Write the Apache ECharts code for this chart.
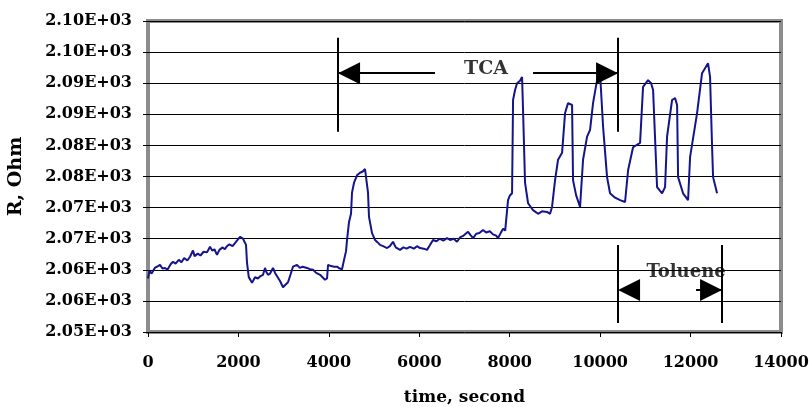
<!DOCTYPE html>
<html>
<head>
<meta charset="utf-8">
<script src="https://cdn.jsdelivr.net/npm/echarts@6/dist/echarts.min.js"></script>
<style>
html,body{margin:0;padding:0;background:#fff;}
#chart{width:809px;height:407px;}
</style>
</head>
<body>
<div id="chart"></div>
<script>
// time (s) and resistance (Ohm)
var times = [0,30,80,150,220,265,320,376,430,500,553,610,680,740,800,870,929,960,995,1030,1100,1160,1230,1305,1371,1420,1470,1526,1580,1650,1700,1747,1800,1870,1924,1980,2035,2101,2168,2190,2230,2270,2300,2367,2430,2490,2544,2588,2620,2654,2700,2765,2810,2853,2920,2960,2986,3040,3097,3150,3207,3296,3360,3420,3517,3580,3650,3720,3805,3860,3915,3960,3982,4050,4120,4181,4240,4291,4336,4380,4402,4446,4490,4512,4557,4623,4689,4750,4800,4844,4866,4888,4955,5021,5080,5132,5200,5287,5350,5419,5480,5574,5650,5720,5795,5880,5950,6017,6100,6171,6230,6304,6380,6450,6530,6614,6680,6760,6835,6900,6980,7078,7130,7189,7260,7330,7410,7480,7560,7631,7700,7742,7800,7853,7900,7941,7963,8000,8052,8074,8118,8163,8229,8273,8295,8339,8406,8516,8627,8715,8826,8892,8936,9003,9069,9158,9224,9290,9379,9401,9468,9556,9622,9711,9777,9843,9932,9998,10020,10065,10153,10219,10330,10441,10551,10595,10618,10728,10883,10949,11060,11126,11171,11259,11370,11436,11480,11591,11657,11702,11724,11834,11945,11989,12144,12254,12387,12431,12476,12498,12586];
var resist = [2058.6,2059.8,2059.4,2060.3,2060.6,2060.8,2060.2,2060.3,2060.0,2060.9,2061.3,2061.0,2061.6,2061.2,2061.9,2061.5,2062.1,2062.4,2063.1,2062.2,2062.6,2062.3,2062.9,2062.8,2063.7,2063.1,2063.3,2062.4,2063.2,2063.6,2063.3,2063.8,2064.1,2063.8,2064.3,2064.8,2065.3,2065.0,2064.0,2061.1,2058.8,2058.3,2057.9,2058.8,2058.6,2059.0,2059.2,2060.3,2059.6,2059.2,2059.4,2060.3,2059.5,2059.2,2058.2,2057.6,2057.2,2057.6,2058.0,2059.2,2060.5,2060.8,2060.3,2060.5,2060.3,2060.1,2060.0,2059.5,2059.2,2058.8,2058.4,2058.6,2060.8,2060.6,2060.5,2060.5,2060.2,2060.1,2061.6,2063.0,2064.8,2067.7,2069.0,2072.4,2074.0,2075.2,2075.6,2075.8,2076.2,2076.4,2072.4,2068.5,2065.9,2064.8,2064.4,2064.0,2063.8,2063.5,2063.8,2064.5,2063.6,2063.2,2063.6,2063.4,2063.7,2063.4,2063.8,2063.5,2063.4,2063.2,2063.9,2064.8,2064.6,2065.0,2064.7,2065.1,2064.8,2065.0,2064.5,2065.2,2065.5,2066.1,2065.6,2065.1,2065.8,2065.9,2066.4,2066.0,2066.2,2065.7,2065.5,2065.1,2065.9,2066.6,2066.3,2066.4,2071.2,2071.9,2072.3,2087.3,2088.9,2090.0,2090.4,2091.0,2085.7,2074.0,2070.7,2069.6,2069.0,2069.4,2069.3,2069.0,2070.1,2074.4,2077.7,2078.8,2085.2,2086.8,2086.5,2074.4,2072.0,2070.1,2077.7,2081.4,2082.5,2086.8,2090.5,2091.6,2091.3,2083.0,2074.9,2072.3,2071.6,2071.2,2070.9,2070.7,2076.0,2079.7,2080.4,2089.4,2090.5,2090.0,2088.9,2073.3,2072.3,2073.3,2081.4,2087.3,2087.6,2086.5,2074.9,2072.3,2071.2,2078.1,2085.2,2091.6,2093.2,2091.0,2079.7,2074.9,2072.3];
var yTickLabels = ['2.05E+03','2.06E+03','2.06E+03','2.07E+03','2.07E+03','2.08E+03','2.08E+03','2.09E+03','2.09E+03','2.10E+03','2.10E+03'];
var yMin = 2050, yMax = 2100, yStep = 5;
var xMin = 0, xMax = 14000, xStep = 2000;

// annotation positions in data units (time, Ohm)
var tcaStart = 4203, tcaEnd = 10396, tcaTop = 2097.3, tcaBottom = 2082.2, tcaArrowY = 2091.6;
var tcaShaftLeftEnd = 6348, tcaShaftRightStart = 8516;
var tcaLabel = [7476, 2092.2];
var tolStart = 10396, tolEnd = 12696, tolTop = 2064.0, tolBottom = 2051.45, tolArrowY = 2056.75;
var tolRightFrom = 12121;
var tolLabel = [11900, 2059.6];
// arrow tips: time, Ohm, direction (-1 points left, 1 points right)
var arrowTips = [[tcaStart, tcaArrowY, -1], [tcaEnd, tcaArrowY, 1], [tolStart, tolArrowY, -1], [tolEnd, tolArrowY, 1]];

var data = times.map(function (t, i) { return [t, resist[i]]; });
var FONT = 'DejaVu Serif';
var chart = echarts.init(document.getElementById('chart'), null, {renderer: 'canvas'});

function seg(a, b) {
  return [{coord: a}, {coord: b}];
}

chart.setOption({
  animation: false,
  backgroundColor: '#fff',
  grid: {left: 148, right: 28, top: 21, bottom: 75, containLabel: false, outerBoundsMode: 'none',
    show: true, borderColor: '#8c8c8c', borderWidth: 4, backgroundColor: 'transparent'},
  xAxis: {
    type: 'value', min: xMin, max: xMax, interval: xStep,
    name: 'time, second', nameLocation: 'middle', nameGap: 57,
    nameTextStyle: {fontFamily: FONT, fontWeight: 'bold', fontSize: 17, color: '#000'},
    axisLine: {show: false},
    axisTick: {show: true, length: 5, lineStyle: {color: '#000', width: 1}},
    axisLabel: {fontFamily: FONT, fontWeight: 'bold', fontSize: 16, color: '#000', margin: 23,
      formatter: function (v) { return String(v); }},
    splitLine: {show: false}
  },
  yAxis: {
    type: 'value', min: yMin, max: yMax, interval: yStep,
    name: 'R, Ohm', nameLocation: 'middle', nameRotate: 90, nameGap: 122,
    nameTextStyle: {fontFamily: FONT, fontWeight: 'bold', fontSize: 19, color: '#000'},
    axisLine: {show: false},
    axisTick: {show: true, length: 5, lineStyle: {color: '#000', width: 1}},
    axisLabel: {fontFamily: FONT, fontWeight: 'bold', fontSize: 16, color: '#000', margin: 16,
      formatter: function (v) { return yTickLabels[Math.round((v - yMin) / yStep)]; }},
    splitLine: {show: true, lineStyle: {color: '#000', width: 1}}
  },
  series: [
    {
      type: 'line', data: data, showSymbol: false, symbol: 'none',
      lineStyle: {color: '#14148c', width: 2},
      z: 3,
      markLine: {
        silent: true, animation: false,
        symbol: ['none', 'none'],
        lineStyle: {color: '#000', width: 2, type: 'solid'},
        label: {show: false},
        emphasis: {disabled: true},
        data: [
          seg([tcaStart, tcaTop], [tcaStart, tcaBottom]),
          seg([tcaEnd, tcaTop], [tcaEnd, tcaBottom]),
          seg([tcaShaftLeftEnd, tcaArrowY], [tcaStart, tcaArrowY]),
          seg([tcaShaftRightStart, tcaArrowY], [tcaEnd, tcaArrowY]),
          seg([tolStart, tolTop], [tolStart, tolBottom]),
          seg([tolEnd, tolTop], [tolEnd, tolBottom]),
          seg([tolRightFrom, tolArrowY], [tolEnd, tolArrowY])
        ]
      }
    },
    {
      type: 'custom', z: 6, silent: true, clip: false,
      data: arrowTips,
      renderItem: function (params, api) {
        var p = api.coord([api.value(0), api.value(1)]);
        var d = api.value(2);
        var L = 22, H = 11;
        return {
          type: 'polygon',
          shape: {points: [[p[0], p[1]], [p[0] - d * L, p[1] - H], [p[0] - d * L, p[1] + H]]},
          style: {fill: '#000'}
        };
      }
    },
    {
      type: 'scatter', symbolSize: 0, z: 5, silent: true,
      data: [
        {value: tcaLabel, name: 'TCA', label: {fontSize: 19}},
        {value: tolLabel, name: 'Toluene', label: {fontSize: 18}}
      ],
      label: {show: true, position: 'inside', formatter: '{b}', fontFamily: FONT, fontWeight: 'bold', color: '#000'}
    }
  ]
});
</script>
</body>
</html>
